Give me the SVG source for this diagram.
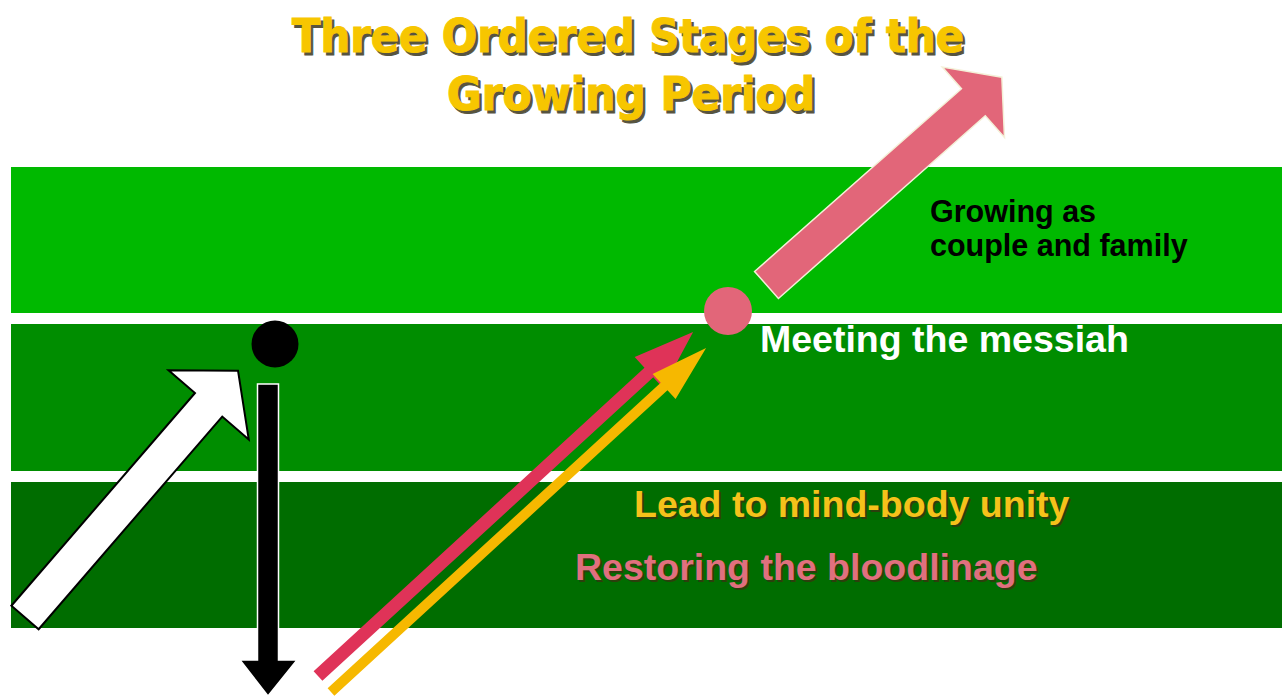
<svg xmlns="http://www.w3.org/2000/svg" width="1282" height="696" viewBox="0 0 1282 696">
<style>
.title{font-family:'DejaVu Sans Condensed','DejaVu Sans',sans-serif;font-stretch:condensed;font-weight:bold;font-size:47px;text-anchor:middle}
.ttl-fill{fill:#f7c600;stroke:#f7c600;stroke-width:1}
.ttl-shadow{fill:#2e2a10;stroke:#2e2a10;stroke-width:1;opacity:0.8}
.lbl{font-family:'Liberation Sans',Arial,sans-serif;font-weight:bold}
.big{font-size:37.5px}
.sm{font-size:30.5px}
.shadow{fill:#3a3010;opacity:0.75}
</style>
<rect width="1282" height="696" fill="#ffffff"/>
<g id="bands">
<rect id="band-top" x="11" y="167" width="1271" height="146" fill="#00b900"/>
<rect id="band-mid" x="11" y="324" width="1271" height="147" fill="#008d00"/>
<rect id="band-bot" x="11" y="482" width="1271" height="146" fill="#006d00"/>
</g>
<g id="title">
<text class="title ttl-shadow" x="630.5" y="54.5" textLength="672" lengthAdjust="spacingAndGlyphs">Three Ordered Stages of the</text>
<text class="title ttl-fill" x="628" y="52" textLength="672" lengthAdjust="spacingAndGlyphs">Three Ordered Stages of the</text>
<text class="title ttl-shadow" x="633.5" y="112.5" textLength="368" lengthAdjust="spacingAndGlyphs">Growing Period</text>
<text class="title ttl-fill" x="631" y="110" textLength="368" lengthAdjust="spacingAndGlyphs">Growing Period</text>
</g>
<g id="connectors">
<polygon id="white-arrow" transform="translate(25,617.5) rotate(-49.2)" points="0,-18 281,-18 281,-53 326,0 281,53 281,18 0,18" fill="#ffffff" stroke="#000000" stroke-width="2" stroke-linejoin="miter"/>
<polygon id="black-arrow" points="257.5,384 278.5,384 278.5,660 297,660 268,696 240,660 257.5,660" fill="#000000" stroke="#ffffff" stroke-width="1.5"/>
<polygon id="red-arrow" transform="translate(318,676) rotate(-42.53)" points="0,-6.5 449,-6.5 449,-21 509,0 449,21 449,6.5 0,6.5" fill="#df3358"/>
<polygon id="yellow-arrow" transform="translate(331,692) rotate(-42.53)" points="0,-5 452,-5 452,-17 509,0 452,17 452,5 0,5" fill="#f6b800"/>
<polygon id="pink-arrow" transform="translate(766.5,285) rotate(-41.45)" points="0,-18 276,-18 276,-47 314,0 276,47 276,18 0,18" fill="#e26679" stroke="#f4f0d8" stroke-width="1.5"/>
</g>
<g id="node-black-dot"><circle cx="275" cy="344" r="23.5" fill="#000000"/></g>
<g id="node-pink-dot"><circle cx="728" cy="311" r="24" fill="#e26679"/></g>
<g id="label-growing">
<text class="lbl sm" x="930" y="222" fill="#000000">Growing as</text>
<text class="lbl sm" x="930" y="256" fill="#000000">couple and family</text>
</g>
<g id="label-meeting">
<text class="lbl big" x="760" y="352" fill="#ffffff">Meeting the messiah</text>
</g>
<g id="label-lead">
<text class="lbl big shadow" x="636" y="519">Lead to mind-body unity</text>
<text class="lbl big" x="634" y="517" fill="#f5c21a">Lead to mind-body unity</text>
</g>
<g id="label-restoring">
<text class="lbl big shadow" x="577" y="582">Restoring the bloodlinage</text>
<text class="lbl big" x="575" y="580" fill="#e0707e">Restoring the bloodlinage</text>
</g>
</svg>
